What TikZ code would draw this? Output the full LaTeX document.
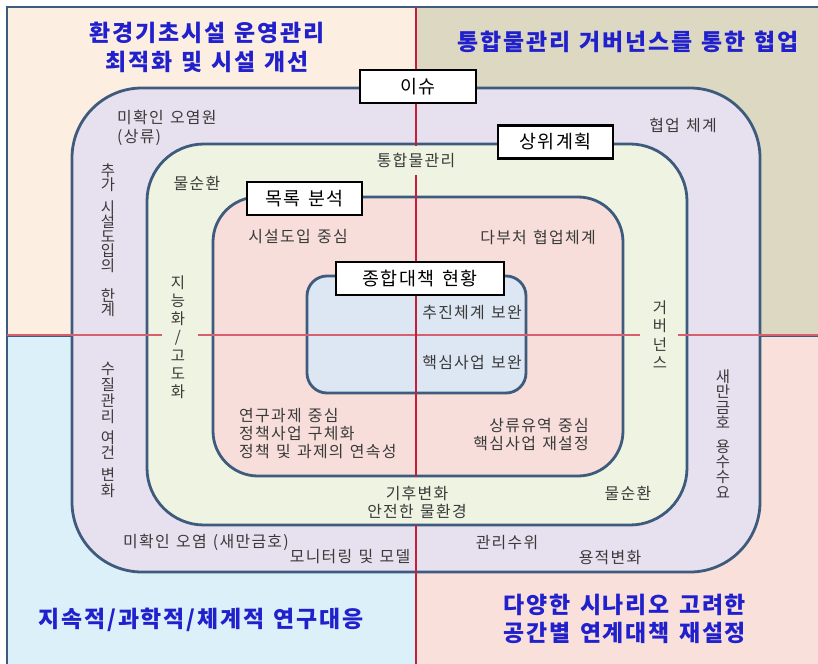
\documentclass[tikz,border=0pt]{standalone}
\usepackage{fontspec}
\setmainfont{Noto Sans CJK KR}[LetterSpace=8.0, WordSpace=1.3]
\definecolor{frame}{HTML}{3E5C7E}
\definecolor{ringc}{HTML}{3E5A7C}
\definecolor{qtl}{HTML}{FDEEE2}
\definecolor{qtr}{HTML}{DDD8C2}
\definecolor{qbl}{HTML}{DCF0F9}
\definecolor{qbr}{HTML}{FAE0DA}
\definecolor{lav}{HTML}{E7E1EF}
\definecolor{grn}{HTML}{EFF4E2}
\definecolor{pnk}{HTML}{F7DEDA}
\definecolor{blu}{HTML}{DDE7F4}
\definecolor{txt}{HTML}{3A3A3A}
\definecolor{ttlc}{HTML}{2020CC}
\definecolor{axh}{HTML}{D66070}
\definecolor{axv}{HTML}{C41E3A}
\begin{document}
\begin{tikzpicture}[x=1bp,y=-1bp,
  quad/.style={draw=frame, line width=1.5bp},
  ring/.style={draw=ringc, line width=2.8bp, rounded corners=#1bp},
  tag/.style={draw=black, fill=white, line width=2.5bp, font=\fontsize{18.5}{20}\selectfont, inner sep=0pt, minimum height=33bp},
  lbl/.style={text=txt, font=\fontsize{16}{18}\selectfont, inner sep=0pt},
  ttl/.style={text=ttlc, font=\bfseries\fontsize{23}{29}\selectfont, align=center, inner sep=0pt},
  vt/.style={text=txt, font=\fontsize{15.5}{#1}\selectfont, align=center, inner sep=0pt},
  axish/.style={draw=axh, line width=1.6bp},
  axisv/.style={draw=axv, line width=1.2bp}]
\useasboundingbox (0,0) rectangle (818,664);
\fill[white] (0,0) rectangle (818,664);
% quadrants
\path[quad, fill=qtl] (7,7) rectangle (416,336);
\path[quad, fill=qtr] (416,7) rectangle (820,336);
\path[quad, fill=qbl] (7,336) rectangle (416,666);
\path[quad, fill=qbr] (416,336) rectangle (820,666);
% rings
\path[ring=70, fill=lav] (72,88) rectangle (760,572);
\path[ring=57, fill=grn] (147,144) rectangle (687,525);
\path[ring=45, fill=pnk] (213,197) rectangle (623,476);
\path[ring=20, fill=blu] (307,276) rectangle (526,393);
% axes
\draw[axish] (7,335) -- (162,335);
\draw[axish] (198,335) -- (640,335);
\draw[axish] (678,335) -- (818,335);
\draw[axisv] (416,7) -- (416,146);
\draw[axisv] (416,175) -- (416,477);
\draw[axisv] (416,525) -- (416,664);
% tags
\node[tag, minimum width=116bp] (issue) at (418,86.5) {이슈};
\node[tag, minimum width=115bp] (plan) at (555.5,142) {상위계획};
\node[tag, minimum width=115bp] (list) at (304.5,198.5) {목록 분석};
\node[tag, minimum width=168bp] (status) at (420,278.5) {종합대책 현황};
% titles
\node[ttl] (t1) at (207,47.5) {환경기초시설 운영관리\\최적화 및 시설 개선};
\node[ttl] (t2) at (628,42) {통합물관리 거버넌스를 통한 협업};
\node[ttl] (t3) at (201,620) {지속적/과학적/체계적 연구대응};
\node[ttl, font=\bfseries\fontsize{23}{28}\selectfont] (t4) at (625,619) {다양한 시나리오 고려한\\공간별 연계대책 재설정};
% labels
\node[lbl, anchor=west] (a1) at (117,117) {미확인 오염원};
\node[lbl, anchor=west] (a2) at (117,137) {(상류)};
\node[lbl] (b1) at (683,125) {협업 체계};
\node[lbl] (b2) at (416,160) {통합물관리};
\node[lbl] (b3) at (197,183) {물순환};
\node[lbl] (b4) at (298,237) {시설도입 중심};
\node[lbl] (b5) at (538,237) {다부처 협업체계};
\node[lbl] (b6) at (472,313) {추진체계 보완};
\node[lbl] (b7) at (472,363) {핵심사업 보완};
\node[lbl, align=left, anchor=west, font=\fontsize{16}{18.5}\selectfont] (b8) at (239,433.5) {연구과제 중심\\정책사업 구체화\\정책 및 과제의 연속성};
\node[lbl, align=right, anchor=east, font=\fontsize{16}{17.5}\selectfont] (b9) at (589,434.5) {상류유역 중심\\핵심사업 재설정};
\node[lbl, align=center] (b10) at (417,502) {기후변화\\안전한 물환경};
\node[lbl] (b11) at (628,493) {물순환};
\node[lbl] (b12) at (206,542) {미확인 오염 (새만금호)};
\node[lbl] (b13) at (350,557) {모니터링 및 모델};
\node[lbl] (b14) at (507,543) {관리수위};
\node[lbl] (b15) at (610,558) {용적변화};
% vertical labels
\node[vt=14.5] (v1) at (108,240) {추\\가\\[8.5bp]시\\설\\도\\입\\의\\[15.5bp]한\\계};
\node[vt=16] (v2) at (108,430) {수\\질\\관\\리\\[5bp]여\\건\\[6bp]변\\화};
\node[vt=18.3] (v3) at (178,337) {지\\능\\화\\/\\고\\도\\화};
\node[vt=18.5] (v4) at (660,334.5) {거\\버\\넌\\스};
\node[vt=15.5] (v5) at (723,434) {새\\만\\금\\호\\[8bp]용\\수\\수\\요};
\end{tikzpicture}
\end{document}
